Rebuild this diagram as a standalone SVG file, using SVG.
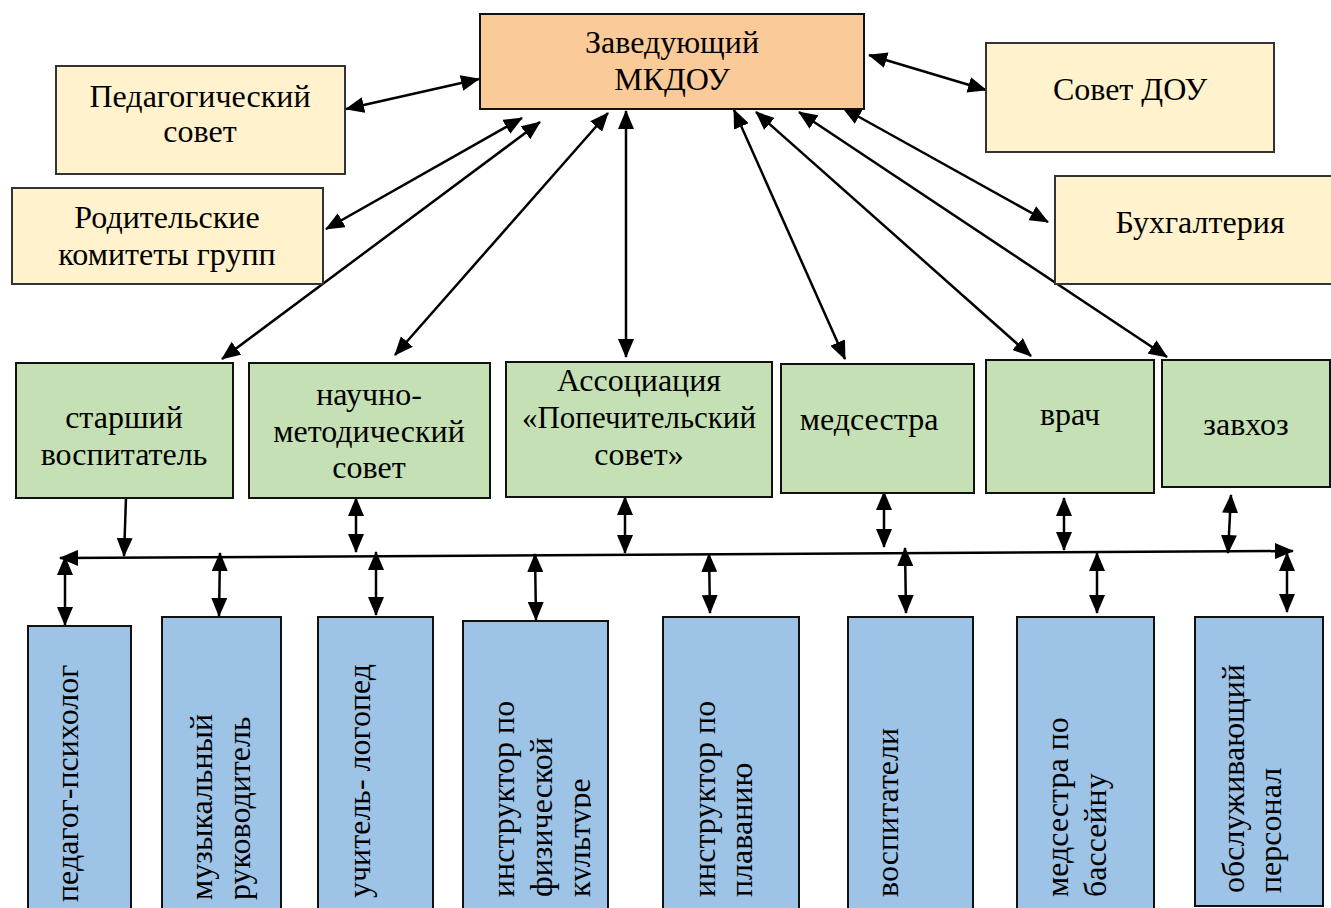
<svg xmlns="http://www.w3.org/2000/svg" width="1331" height="908" viewBox="0 0 1331 908">
<style>
  text { font-family: "Liberation Serif", "Times New Roman", serif; font-size: 32px; fill: #000; }
  .c { text-anchor: middle; }
  .box { stroke: #111; stroke-width: 2; }
  .head { fill: #FACB98; }
  .yel { fill: #FFF2CC; stroke: #333; stroke-width: 2; }
  .grn { fill: #C5E0B4; }
  .blu { fill: #9DC3E6; }
  .con line { stroke: #000; stroke-width: 2.5; fill: none; }
  .dbl { marker-start: url(#ah); marker-end: url(#ah); }
  .one { marker-end: url(#ah); }
</style>
<defs>
  <marker id="ah" viewBox="0 0 19 16" refX="18" refY="8" markerWidth="19" markerHeight="16" markerUnits="userSpaceOnUse" orient="auto-start-reverse">
    <path d="M0,0 L19,8 L0,16 z" fill="#000"/>
  </marker>
  <clipPath id="clipK"><rect x="463" y="620" width="128" height="290"/></clipPath>
</defs>

<g id="connectors" class="con">
  <line class="dbl" x1="346" y1="109" x2="479" y2="79"/>
  <line class="dbl" x1="326" y1="229" x2="522" y2="118"/>
  <line class="dbl" x1="222" y1="359" x2="540" y2="122"/>
  <line class="dbl" x1="395" y1="355" x2="608" y2="113"/>
  <line class="dbl" x1="626" y1="357" x2="626" y2="111"/>
  <line class="dbl" x1="845" y1="359" x2="734" y2="110"/>
  <line class="dbl" x1="1031" y1="356" x2="756" y2="112"/>
  <line class="dbl" x1="1167" y1="357" x2="799" y2="112"/>
  <line class="dbl" x1="1048" y1="222" x2="843" y2="108"/>
  <line class="dbl" x1="869" y1="55" x2="986" y2="90"/>
  <line class="dbl" x1="60" y1="558" x2="1293" y2="551"/>
  <line class="one" x1="126" y1="498" x2="124" y2="556"/>
  <line class="dbl" x1="356" y1="498" x2="356" y2="552"/>
  <line class="dbl" x1="625" y1="497" x2="625" y2="553"/>
  <line class="dbl" x1="884" y1="492" x2="884" y2="547"/>
  <line class="dbl" x1="1064" y1="498" x2="1064" y2="550"/>
  <line class="dbl" x1="1231" y1="495" x2="1228" y2="553"/>
  <line class="dbl" x1="65" y1="557" x2="65" y2="625"/>
  <line class="dbl" x1="220" y1="553" x2="219" y2="616"/>
  <line class="dbl" x1="376" y1="552" x2="376" y2="615"/>
  <line class="dbl" x1="535" y1="554" x2="536" y2="620"/>
  <line class="dbl" x1="709" y1="554" x2="710" y2="613"/>
  <line class="dbl" x1="905" y1="548" x2="906" y2="613"/>
  <line class="dbl" x1="1097" y1="553" x2="1097" y2="613"/>
  <line class="dbl" x1="1287" y1="553" x2="1287" y2="612"/>
</g>

<g id="n-head"><rect class="box head" x="480" y="14" width="384" height="95"/>
  <text class="c" x="672" y="53">Заведующий</text><text class="c" x="672" y="90">МКДОУ</text></g>
<g id="n-pedsovet"><rect class="yel" x="56" y="66" width="289" height="108"/>
  <text class="c" x="200" y="107">Педагогический</text><text class="c" x="200" y="142">совет</text></g>
<g id="n-parents"><rect class="yel" x="12" y="188" width="311" height="96"/>
  <text class="c" x="167" y="228">Родительские</text><text class="c" x="167" y="265">комитеты групп</text></g>
<g id="n-sovet"><rect class="yel" x="986" y="43" width="288" height="109"/>
  <text class="c" x="1130" y="100">Совет ДОУ</text></g>
<g id="n-buh"><rect class="yel" x="1055" y="176" width="290" height="108"/>
  <text class="c" x="1200" y="233">Бухгалтерия</text></g>

<g id="n-senior"><rect class="box grn" x="16" y="363" width="217" height="135"/>
  <text class="c" x="124" y="428">старший</text><text class="c" x="124" y="465">воспитатель</text></g>
<g id="n-nms"><rect class="box grn" x="249" y="363" width="241" height="135"/>
  <text class="c" x="369" y="405">научно-</text><text class="c" x="369" y="442">методический</text><text class="c" x="369" y="478">совет</text></g>
<g id="n-assoc"><rect class="box grn" x="506" y="362" width="266" height="135"/>
  <text class="c" x="639" y="391">Ассоциация</text><text class="c" x="639" y="428" style="font-size:31px">«Попечительский</text><text class="c" x="639" y="465">совет»</text></g>
<g id="n-nurse"><rect class="box grn" x="781" y="364" width="193" height="129"/>
  <text class="c" x="869" y="430">медсестра</text></g>
<g id="n-doctor"><rect class="box grn" x="986" y="360" width="168" height="133"/>
  <text class="c" x="1070" y="425">врач</text></g>
<g id="n-zavhoz"><rect class="box grn" x="1162" y="360" width="168" height="127"/>
  <text class="c" x="1246" y="435">завхоз</text></g>

<g id="n-psy"><rect class="box blu" x="28" y="626" width="103" height="292"/>
  <text transform="translate(78,902) rotate(-90)">педагог-психолог</text></g>
<g id="n-music"><rect class="box blu" x="162" y="617" width="119" height="301"/>
  <text transform="translate(212,900) rotate(-90)">музыкальный</text>
  <text transform="translate(250,900) rotate(-90)">руководитель</text></g>
<g id="n-logo"><rect class="box blu" x="318" y="617" width="115" height="301"/>
  <text transform="translate(370,898) rotate(-90)">учитель- логопед</text></g>
<g id="n-phys"><rect class="box blu" x="463" y="621" width="145" height="297"/>
  <text transform="translate(514,897) rotate(-90)">инструктор по</text>
  <text transform="translate(552,897) rotate(-90)">физической</text>
  <g clip-path="url(#clipK)"><text transform="translate(590,897) rotate(-90)">культуре</text></g></g>
<g id="n-swim"><rect class="box blu" x="663" y="617" width="136" height="301"/>
  <text transform="translate(715,897) rotate(-90)">инструктор по</text>
  <text transform="translate(752,897) rotate(-90)">плаванию</text></g>
<g id="n-teachers"><rect class="box blu" x="848" y="617" width="125" height="301"/>
  <text transform="translate(898,897) rotate(-90)">воспитатели</text></g>
<g id="n-poolnurse"><rect class="box blu" x="1017" y="617" width="137" height="301"/>
  <text transform="translate(1068,897) rotate(-90)">медсестра по</text>
  <text transform="translate(1106,897) rotate(-90)">бассейну</text></g>
<g id="n-staff"><rect class="box blu" x="1195" y="617" width="128" height="289"/>
  <text transform="translate(1244,893) rotate(-90)">обслуживающий</text>
  <text transform="translate(1281,893) rotate(-90)">персонал</text></g>
</svg>
